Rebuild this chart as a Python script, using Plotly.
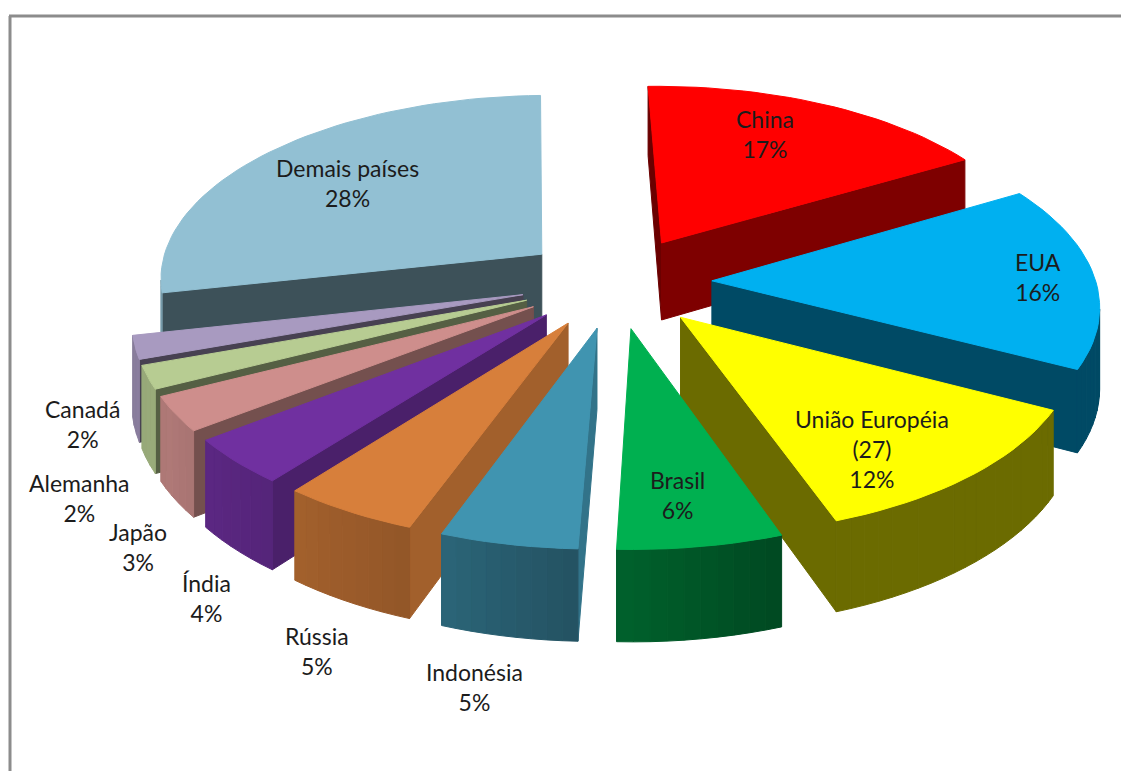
import numpy as np
import plotly.graph_objects as go

names = ["China", "EUA", "União Européia<br>(27)", "Brasil", "Indonésia", "Rússia",
         "Índia", "Japão", "Alemanha", "Canadá", "Demais países"]
values = [17, 16, 12, 6, 5, 5, 4, 3, 2, 2, 28]
colors = ["#FF0000", "#00B0F0", "#FFFF00", "#00B050", "#4094B0", "#D77F3B",
          "#7030A0", "#CE8E8C", "#B7CC92", "#A89AC0", "#92C0D3"]
label_x = [765, 1038, 872, 677, 474, 317, 206, 138, 79, 82, 347]
label_y = [134, 277, 449, 495, 687, 651, 598, 547, 498, 424, 183]

# camera of the 3D pie, in pixels
CX, CY = 616, 282
HORIZON = -1295
DIST = 8.6
RX = 384
WALL = 79
EXPLODE = 0.25
ROT = -1.5


def project(x, y, down=0):
    w = 1 / (1 + y / DIST)
    return CX + RX * x * w, HORIZON + (CY - HORIZON) * w + WALL * down * w


def shade(hex_color, k):
    r, g, b = [int(hex_color[i:i + 2], 16) for i in (1, 3, 5)]
    return f"rgb({r * k:.0f},{g * k:.0f},{b * k:.0f})"


def side_light(normal):
    return np.interp(normal, [90, 112, 130, 144, 151, 160, 250], [.78, .75, .65, .55, .48, .42, .42])


def arc_light(normal):
    return np.interp(normal, [100, 162, 183, 200, 240, 260], [.42, .42, .56, .68, .85, .8])


def add_poly(fig, xs, ys, color, name=None):
    fig.add_trace(go.Scatter(
        x=xs, y=ys, mode="lines", fill="toself", fillcolor=color,
        line=dict(color=color, width=1), showlegend=False,
        hoverinfo="text" if name else "skip", text=name,
    ))


def add_wall(fig, p, q, color):
    xa, ya = project(*p)
    xb, yb = project(*q)
    xc, yc = project(*q, 1)
    xd, yd = project(*p, 1)
    xs = [xa, xb, xc, xd]
    ys = [ya, yb, yc, yd]
    area = sum(xs[i] * ys[(i + 1) % 4] - xs[(i + 1) % 4] * ys[i] for i in range(4))
    if area < 0:
        add_poly(fig, xs + [xa], ys + [ya], color)


fig = go.Figure()

edges = np.cumsum([0] + values) * 3.6 + ROT
slices = []
for i in range(len(values)):
    mid = np.radians((edges[i] + edges[i + 1]) / 2)
    slices.append((np.cos(mid), i))

# far slices first so the near ones paint over them
for _, i in sorted(slices, reverse=True):
    a0, a1 = edges[i], edges[i + 1]
    mid = np.radians((a0 + a1) / 2)
    ox, oy = EXPLODE * np.sin(mid), EXPLODE * np.cos(mid)
    n = max(int((a1 - a0) / 2), 2)
    angles = np.linspace(a0, a1, n + 1)
    px = ox + np.sin(np.radians(angles))
    py = oy + np.cos(np.radians(angles))
    col = colors[i]

    add_wall(fig, (ox, oy), (px[0], py[0]), shade(col, side_light((a0 - 90) % 360)))
    add_wall(fig, (px[-1], py[-1]), (ox, oy), shade(col, side_light((a1 + 90) % 360)))
    for j in range(n):
        add_wall(fig, (px[j], py[j]), (px[j + 1], py[j + 1]),
                 shade(col, arc_light((angles[j] + angles[j + 1]) / 2 % 360)))

    tx, ty = project(np.r_[ox, px, ox], np.r_[oy, py, oy])
    add_poly(fig, tx, ty, col, f"{names[i]} {values[i]}%")

for i in range(len(values)):
    fig.add_annotation(
        x=label_x[i], y=label_y[i], text=f"{names[i]}<br>{values[i]}%", showarrow=False,
        font=dict(family="Lato", size=23, color="#1c1c1c"),
        xanchor="center", yanchor="middle", align="center",
    )

fig.add_shape(type="line", x0=10, x1=10, y0=771, y1=16, line=dict(color="#8c8c8c", width=3))
fig.add_shape(type="line", x0=9, x1=1121, y0=16, y1=16, line=dict(color="#8c8c8c", width=3))

fig.update_layout(
    width=1121, height=771,
    margin=dict(l=0, r=0, t=0, b=0),
    paper_bgcolor="white", plot_bgcolor="white",
    xaxis=dict(range=[0, 1121], visible=False, fixedrange=True),
    yaxis=dict(range=[771, 0], visible=False, fixedrange=True),
    hovermode="closest",
)

fig.write_html("out.html", config=dict(displayModeBar=False),
               post_script="document.body.style.margin='0';document.body.style.overflow='hidden';")
